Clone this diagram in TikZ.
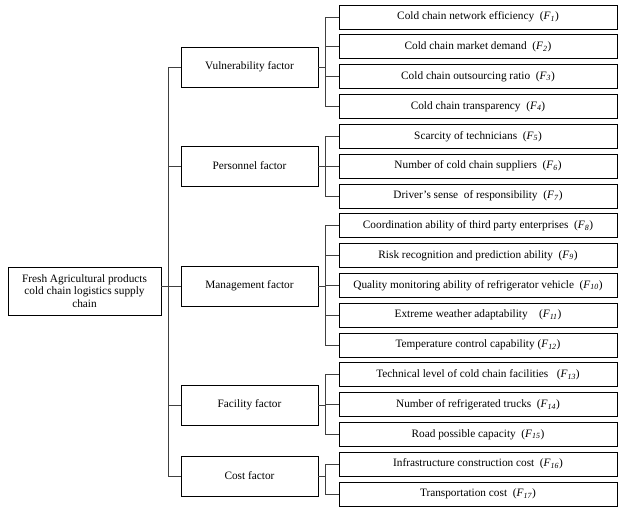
\documentclass[tikz,border=0pt]{standalone}
\usepackage{fontspec}
\setmainfont{Liberation Serif}
\usetikzlibrary{calc}

\newcommand\fsub[1]{(\textit{F}\textsubscript{\textit{#1}})}

\begin{document}
\begin{tikzpicture}[x=1pt,y=-1pt,
  every node/.style={font=\fontsize{11.3}{12.6}\selectfont},
  rootbox/.style={draw,line width=0.8pt,minimum width=153pt,minimum height=48pt,align=center,inner sep=2pt},
  factorbox/.style={draw,line width=0.8pt,minimum width=137pt,minimum height=40pt},
  itembox/.style={draw,line width=0.8pt,minimum width=278pt,minimum height=24pt,inner sep=1pt},
  link/.style={line width=0.8pt,black!75}]
\useasboundingbox (0,0) rectangle (618,507);
% root and factors
\node[rootbox] (root) at (84.5,291) {Fresh Agricultural products\\cold chain logistics supply\\chain};
\node[factorbox] (vul) at (249.5,67) {Vulnerability factor};
\node[factorbox] (per) at (249.5,166) {Personnel factor};
\node[factorbox] (mgt) at (249.5,286) {Management factor};
\node[factorbox] (fac) at (249.5,405) {Facility factor};
\node[factorbox] (cst) at (249.5,476) {Cost factor};
% indicators
\node[itembox] (c1) at (478,17) {Cold chain network efficiency~ \fsub{1}};
\node[itembox] (c2) at (478,46.8) {Cold chain market demand~ \fsub{2}};
\node[itembox] (c3) at (478,76.6) {Cold chain outsourcing ratio~ \fsub{3}};
\node[itembox] (c4) at (478,106.4) {Cold chain transparency~ \fsub{4}};
\node[itembox] (c5) at (478,136.3) {Scarcity of technicians~ \fsub{5}};
\node[itembox] (c6) at (478,166.1) {Number of cold chain suppliers~ \fsub{6}};
\node[itembox] (c7) at (478,195.9) {Driver's sense~ of responsibility~ \fsub{7}};
\node[itembox] (c8) at (478,225.7) {Coordination ability of third party enterprises~ \fsub{8}};
\node[itembox] (c9) at (478,255.5) {Risk recognition and prediction ability~ \fsub{9}};
\node[itembox] (c10) at (478,285.3) {Quality monitoring ability of refrigerator vehicle~ \fsub{10}};
\node[itembox] (c11) at (478,315.1) {Extreme weather adaptability~~~ \fsub{11}};
\node[itembox] (c12) at (478,344.9) {Temperature control capability \fsub{12}};
\node[itembox] (c13) at (478,374.8) {Technical level of cold chain facilities~~ \fsub{13}};
\node[itembox] (c14) at (478,404.6) {Number of refrigerated trucks~ \fsub{14}};
\node[itembox] (c15) at (478,434.4) {Road possible capacity~ \fsub{15}};
\node[itembox] (c16) at (478,464.2) {Infrastructure construction cost~ \fsub{16}};
\node[itembox] (c17) at (478,494) {Transportation cost~ \fsub{17}};
\coordinate (tr) at (168,0);
\coordinate (bx) at (325,0);
% trunk
\draw[link] (vul.west) -- (vul.west -| tr) -- (cst.west -| tr) -- (cst.west);
\draw[link] (per.west) -- (per.west -| tr);
\draw[link] (fac.west) -- (fac.west -| tr);
\draw[link] (root.east |- mgt.west) -- (mgt.west);
% brackets
\draw[link] (c1.west) -- (c1.west -| bx) -- (c4.west -| bx) -- (c4.west);
\draw[link] (c2.west) -- (c2.west -| bx);
\draw[link] (c3.west) -- (c3.west -| bx);
\draw[link] (vul.east) -- (vul.east -| bx);
\draw[link] (c5.west) -- (c5.west -| bx) -- (c7.west -| bx) -- (c7.west);
\draw[link] (c6.west) -- (c6.west -| bx);
\draw[link] (per.east) -- (per.east -| bx);
\draw[link] (c8.west) -- (c8.west -| bx) -- (c12.west -| bx) -- (c12.west);
\draw[link] (c9.west) -- (c9.west -| bx);
\draw[link] (c10.west) -- (c10.west -| bx);
\draw[link] (c11.west) -- (c11.west -| bx);
\draw[link] (mgt.east) -- (mgt.east -| bx);
\draw[link] (c13.west) -- (c13.west -| bx) -- (c15.west -| bx) -- (c15.west);
\draw[link] (c14.west) -- (c14.west -| bx);
\draw[link] (fac.east) -- (fac.east -| bx);
\draw[link] (c16.west) -- (c16.west -| bx) -- (c17.west -| bx) -- (c17.west);
\draw[link] (cst.east) -- (cst.east -| bx);
\end{tikzpicture}
\end{document}
